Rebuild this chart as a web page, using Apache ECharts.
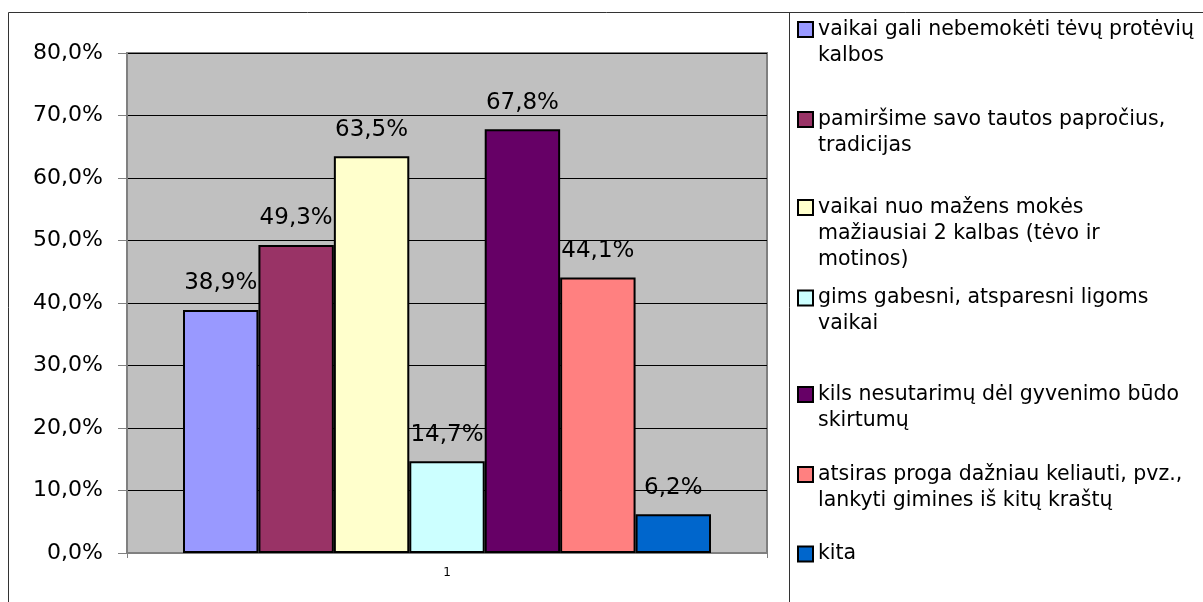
<!DOCTYPE html>
<html>
<head>
<meta charset="utf-8">
<script src="https://cdn.jsdelivr.net/npm/echarts@6/dist/echarts.min.js"></script>
<style>
html,body{margin:0;padding:0;background:#fff;}
#c{width:1203px;height:602px;}
</style>
</head>
<body>
<div id="c"></div>
<script>
const categories = ['1'];
const seriesNames = [
  'vaikai gali nebemokėti tėvų protėvių kalbos',
  'pamiršime savo tautos papročius, tradicijas',
  'vaikai nuo mažens mokės mažiausiai 2 kalbas (tėvo ir motinos)',
  'gims gabesni, atsparesni ligoms vaikai',
  'kils nesutarimų dėl gyvenimo būdo skirtumų',
  'atsiras proga dažniau keliauti, pvz., lankyti gimines iš kitų kraštų',
  'kita'
];
const legendLabels = [
  'vaikai gali nebemokėti tėvų protėvių\nkalbos',
  'pamiršime savo tautos papročius,\ntradicijas',
  'vaikai nuo mažens mokės\nmažiausiai 2 kalbas (tėvo ir\nmotinos)',
  'gims gabesni, atsparesni ligoms\nvaikai',
  'kils nesutarimų dėl gyvenimo būdo\nskirtumų',
  'atsiras proga dažniau keliauti, pvz.,\nlankyti gimines iš kitų kraštų',
  'kita'
];
const values = [38.9, 49.3, 63.5, 14.7, 67.8, 44.1, 6.2];
const colors = ['#9999FF', '#993366', '#FFFFCC', '#CCFFFF', '#660066', '#FF8080', '#0066CC'];
const yTicks = [0, 10, 20, 30, 40, 50, 60, 70, 80];

const FONT = 'DejaVu Sans';
const fmtPct = v => v.toFixed(1).replace('.', ',') + '%';

const chart = echarts.init(document.getElementById('c'), null, {renderer: 'canvas'});

const LH = 26;
const IH = 15;
const iconCenters = [29.5, 119.5, 207.5, 298, 394.5, 474.5, 554];

const legends = seriesNames.map((name, i) => {
  const n = legendLabels[i].split('\n').length;
  const outerH = (2 * n - 1) * LH;
  const top = iconCenters[i] - Math.max(outerH, IH) / 2;
  return {
    show: true,
    data: [name],
    left: 797,
    top: top,
    padding: 0,
    itemWidth: IH,
    itemHeight: IH,
    icon: 'rect',
    selectedMode: false,
    itemStyle: {borderColor: '#000', borderWidth: 2},
    formatter: () => '\n'.repeat(n - 1) + legendLabels[i],
    textStyle: {
      fontFamily: FONT,
      fontSize: 20.5,
      color: '#000',
      lineHeight: LH
    }
  };
});

const option = {
  animation: false,
  backgroundColor: '#fff',
  textStyle: {fontFamily: FONT},
  grid: {
    left: 127, right: 436, top: 53, bottom: 49,
    show: true,
    backgroundColor: '#C0C0C0',
    borderColor: '#808080',
    borderWidth: 2
  },
  legend: legends,
  xAxis: {
    type: 'category',
    data: categories,
    axisLine: {lineStyle: {color: '#808080', width: 2}},
    axisTick: {show: true, length: 5, lineStyle: {color: '#808080'}},
    axisLabel: {fontSize: 12, color: '#000', margin: 14, fontFamily: FONT}
  },
  yAxis: {
    type: 'value',
    min: yTicks[0],
    max: yTicks[yTicks.length - 1],
    interval: 10,
    axisLine: {show: true, lineStyle: {color: '#808080', width: 2}},
    axisTick: {show: true, length: 9, lineStyle: {color: '#808080'}},
    axisLabel: {
      fontSize: 22, color: '#000', margin: 24, fontFamily: FONT,
      formatter: v => fmtPct(v)
    },
    splitLine: {show: true, lineStyle: {color: '#000', width: 1}}
  },
  series: seriesNames.map((name, i) => ({
    name: name,
    type: 'bar',
    data: [values[i]],
    barGap: '0%',
    barCategoryGap: '17.5%',
    itemStyle: {color: colors[i], borderColor: '#000', borderWidth: 2},
    label: {
      show: true,
      position: 'top',
      distance: 15,
      fontSize: 23,
      fontFamily: FONT,
      color: '#000',
      formatter: p => fmtPct(p.value)
    }
  })),
  graphic: [
    {
      type: 'rect',
      shape: {x: 8.5, y: 12.5, width: 1400, height: 800},
      style: {fill: null, stroke: '#333', lineWidth: 1},
      silent: true, z: 100
    },
    {
      type: 'line',
      shape: {x1: 789.5, y1: 12.5, x2: 789.5, y2: 602},
      style: {stroke: '#333', lineWidth: 1},
      silent: true, z: 100
    }
  ]
};

chart.setOption(option);
</script>
</body>
</html>
